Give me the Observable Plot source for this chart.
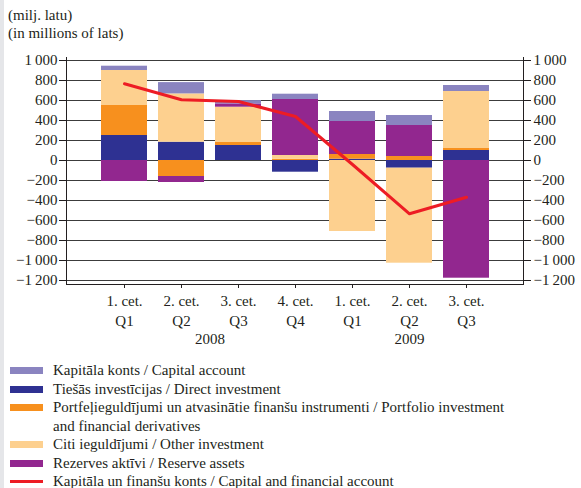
<!DOCTYPE html>
<html>
<head>
<meta charset="utf-8">
<script src="https://cdn.jsdelivr.net/npm/d3@7"></script>
<script src="https://cdn.jsdelivr.net/npm/@observablehq/plot@0.6"></script>
<style>
  html, body { margin: 0; padding: 0; background: #fff; }
  body { width: 581px; height: 488px; overflow: hidden; position: relative;
         font-family: "Liberation Serif", "DejaVu Serif", serif; color: #231f20; }
  #strip { position: absolute; left: 0; top: 0; width: 4px; height: 488px; background: #e5e6e9; }
  #header { height: 42px; box-sizing: border-box; padding: 6px 0 0 8px; font-size: 15px; line-height: 18px; }
  #chart svg { display: block; }
  #legend { padding-top: 9px; font-size: 15px; }
  .row { height: 18.5px; line-height: 18.5px; display: flex; align-items: flex-start; white-space: nowrap; }
  .row.two { height: 37px; }
  .sw { width: 33px; margin-left: 10px; margin-right: 10px; flex: none; }
  .sw.box { height: 7px; margin-top: 6px; }
  .sw.ln { height: 3px; margin-top: 8px; }
</style>
</head>
<body>
<div id="strip"></div>
<div id="header">(milj. latu)<br>(in millions of lats)</div>
<div id="chart"></div>
<div id="legend"></div>
<script>
// ---- data ----
const quarters = ["2008 Q1","2008 Q2","2008 Q3","2008 Q4","2009 Q1","2009 Q2","2009 Q3"];
const cetLabels = ["1. cet.","2. cet.","3. cet.","4. cet.","1. cet.","2. cet.","3. cet."];
const qLabels = ["Q1","Q2","Q3","Q4","Q1","Q2","Q3"];
const years = ["2008","2009"];
const yearAnchor = ["2008 Q2","2009 Q2"];
const yTicks = [-1200,-1000,-800,-600,-400,-200,0,200,400,600,800,1000];

const capital   = [43, 113, 33, 53, 100, 100, 60];
const direct    = [250, 183, 150, -117, 13, -77, 100];
const portfolio = [300, -160, 30, 13, 47, 40, 20];
const other     = [350, 483, 353, 37, -710, -950, 570];
const reserve   = [-210, -60, 33, 560, 330, 310, -1177];
const total     = [767, 607, 590, 440, -40, -533, -367];

const seriesKeys = ["direct","portfolio","other","reserve","capital"];
const seriesValues = {direct, portfolio, other, reserve, capital};
const seriesColors = ["#2e3192","#f7901e","#fdd08f","#92278f","#8a84c0"];
const legendItems = [
  {label: "Kapitāla konts / Capital account", color: "#8a84c0"},
  {label: "Tiešās investīcijas / Direct investment", color: "#2e3192"},
  {label: "Portfeļieguldījumi un atvasinātie finanšu instrumenti / Portfolio investment<br>and financial derivatives", color: "#f7901e", two: true},
  {label: "Citi ieguldījumi / Other investment", color: "#fdd08f"},
  {label: "Rezerves aktīvi / Reserve assets", color: "#92278f"},
  {label: "Kapitāla un finanšu konts / Capital and financial account", color: "#ed1c24", line: true}
];

// ---- table for the library ----
const bars = [];
seriesKeys.forEach(k => quarters.forEach((q, i) => bars.push({q, series: k, value: seriesValues[k][i]})));
const lineData = quarters.map((q, i) => ({q, value: total[i]}));

const W = 581, ML = 66, MR = 58;
const step = (W - ML - MR) / 8;

const fmt = d => {
  const a = Math.abs(d);
  let s = a >= 1000 ? Math.floor(a / 1000) + "\u2009" + String(a % 1000).padStart(3, "0") : String(a);
  return (d < 0 ? "\u2212" : "") + s;
};
const xfmt = q => { const i = quarters.indexOf(q); return cetLabels[i] + "\n" + qLabels[i]; };

const chart = Plot.plot({
  width: W,
  height: 310,
  marginLeft: ML,
  marginRight: MR,
  marginTop: 15,
  marginBottom: 68,
  style: {fontFamily: "'Liberation Serif', serif", fontSize: "15px", color: "#231f20", background: "transparent"},
  x: {type: "band", domain: quarters, paddingInner: 0.2, paddingOuter: 0.6, label: null},
  y: {domain: [-1240, 1030], label: null},
  color: {domain: seriesKeys, range: seriesColors},
  marks: [
    Plot.ruleY(yTicks, {stroke: "#3c3c3c", strokeWidth: 1}),
    Plot.barY(bars, {x: "q", y: "value", fill: "series", z: "series", order: seriesKeys}),
    Plot.line(lineData, {x: "q", y: "value", stroke: "#ed1c24", strokeWidth: 3, strokeLinejoin: "round"}),
    Plot.frame({anchor: "left", stroke: "#231f20"}),
    Plot.frame({anchor: "right", stroke: "#231f20"}),
    Plot.frame({anchor: "bottom", stroke: "#231f20"}),
    Plot.axisY(yTicks, {anchor: "left", label: null, tickSize: 7, tickPadding: 2, tickFormat: fmt, fontSize: 15, stroke: "#231f20"}),
    Plot.axisY(yTicks, {anchor: "right", label: null, tickSize: 7, tickPadding: 3, tickFormat: fmt, fontSize: 15, stroke: "#231f20"}),
    Plot.axisX({label: null, tickSize: 4, tickPadding: 3, tickFormat: xfmt, fontSize: 15, lineHeight: 1.33, stroke: "#231f20"}),
    Plot.text([years[0]], {x: () => yearAnchor[0], frameAnchor: "bottom", dy: 59, dx: step / 2, fontSize: 15}),
    Plot.text([years[1]], {x: () => yearAnchor[1], frameAnchor: "bottom", dy: 59, fontSize: 15})
  ]
});
document.getElementById("chart").appendChild(chart);

// ---- legend ----
const lg = document.getElementById("legend");
legendItems.forEach(it => {
  const row = document.createElement("div");
  row.className = "row" + (it.two ? " two" : "");
  const sw = document.createElement("div");
  sw.className = "sw " + (it.line ? "ln" : "box");
  sw.style.background = it.color;
  const t = document.createElement("div");
  t.innerHTML = it.label;
  row.appendChild(sw); row.appendChild(t);
  lg.appendChild(row);
});
</script>
</body>
</html>
